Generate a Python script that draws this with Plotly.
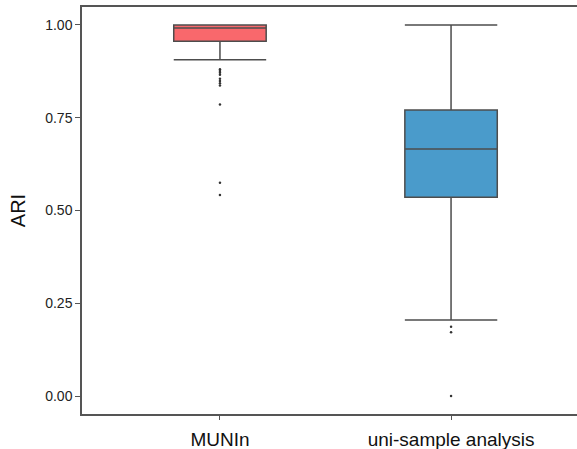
import plotly.graph_objects as go

# Methods compared
methods = ["MUNIn", "uni-sample analysis"]

# Box statistics per method (ARI)
q1 = [0.956, 0.536]
median = [0.992, 0.666]
q3 = [1.000, 0.771]
lower_fence = [0.906, 0.205]
upper_fence = [1.000, 1.000]

# Outlying ARI values per method
munin_outliers = [0.881, 0.876, 0.871, 0.866, 0.855, 0.849, 0.843, 0.837, 0.786, 0.575, 0.542]
uni_outliers = [0.187, 0.172, 0.0]

fill_colors = ["#F9686C", "#4A9BCB"]
edge_color = "#4d4d4d"

fig = go.Figure()
for i, m in enumerate(methods):
    fig.add_trace(go.Box(
        x=[m], q1=[q1[i]], median=[median[i]], q3=[q3[i]],
        lowerfence=[lower_fence[i]], upperfence=[upper_fence[i]],
        boxpoints=False, width=0.4, whiskerwidth=1,
        fillcolor=fill_colors[i],
        line=dict(color=edge_color, width=1.5),
        showlegend=False,
    ))

outlier_x = [methods[0]] * len(munin_outliers) + [methods[1]] * len(uni_outliers)
outlier_y = munin_outliers + uni_outliers
fig.add_trace(go.Scatter(
    x=outlier_x, y=outlier_y, mode="markers",
    marker=dict(size=2.5, color="#333333"),
    showlegend=False, hoverinfo="y",
))

fig.update_layout(
    width=577, height=449,
    margin=dict(l=82, r=0, t=7, b=35),
    plot_bgcolor="white", paper_bgcolor="white",
    font=dict(family="Liberation Sans, Arial, sans-serif", color="#1a1a1a"),
)
fig.update_xaxes(
    type="category", categoryorder="array", categoryarray=methods,
    range=[-0.597, 1.545], automargin=False,
    showline=True, linecolor="#555555", linewidth=1.5, mirror=True,
    ticks="outside", ticklen=4, tickcolor="#555555",
    tickfont=dict(size=19, color="#111111"),
    ticklabelstandoff=3,
    showgrid=False, zeroline=False,
)
fig.update_yaxes(
    range=[-0.0485, 1.0485], automargin=False,
    tickvals=[0, 0.25, 0.5, 0.75, 1.0],
    ticktext=["0.00", "0.25", "0.50", "0.75", "1.00"],
    showline=True, linecolor="#555555", linewidth=1.5,
    ticks="outside", ticklen=5, tickcolor="#555555",
    tickfont=dict(size=14, color="#222222"),
    title=dict(text="ARI", font=dict(size=20, color="#111111"), standoff=14),
    showgrid=False, zeroline=False,
)

fig.write_html("out.html")
